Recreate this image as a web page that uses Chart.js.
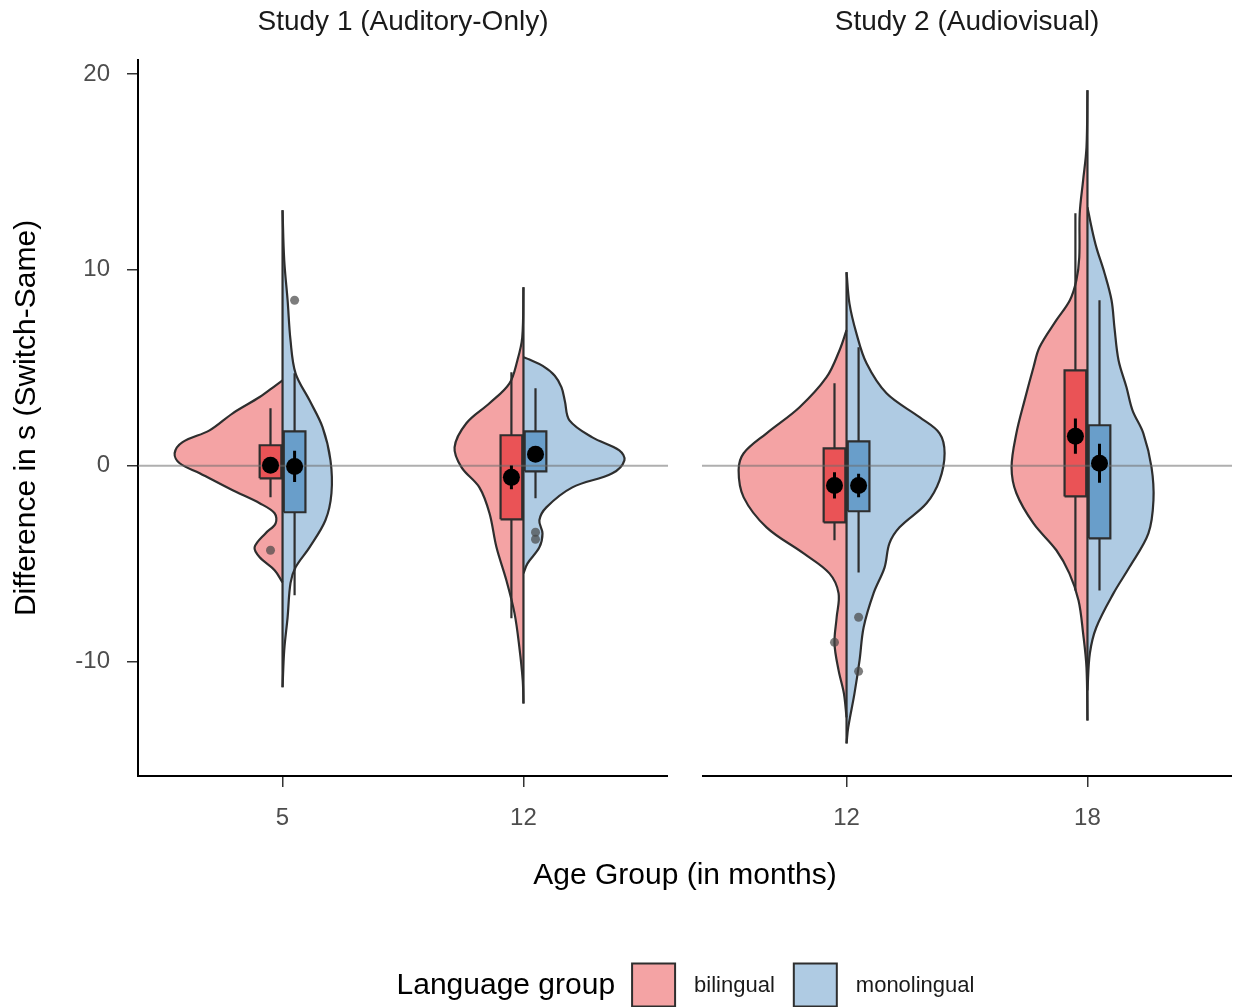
<!DOCTYPE html>
<html><head><meta charset="utf-8">
<script src="https://cdn.jsdelivr.net/npm/chart.js@4.4.1/dist/chart.umd.min.js"></script>
<style>html,body{margin:0;padding:0;background:#fff}canvas{display:block}</style>
</head><body>
<canvas id="c" width="1236" height="1007"></canvas>
<script>
// ---------------- DATA ----------------
const studies = ['Study 1 (Auditory-Only)', 'Study 2 (Audiovisual)'];
const ageLabels = ['5', '12', '12', '18'];
const studyOfGroup = [0, 0, 1, 1];
const yTicks = [-10, 0, 10, 20];
const refLineValue = 0;
const groupNames = ['bilingual', 'monolingual'];

// half-violin density outlines: [value, scaled density width], top to bottom
const densBi_S1_5 = [[4.36,0],[4.11,0.028],[3.51,0.095],[2.68,0.207],[1.81,0.303],[1.21,0.415],[0.64,0.448],[0.13,0.427],[-0.38,0.344],[-1.25,0.207],[-1.91,0.095],[-2.42,0.033],[-2.94,0.029],[-3.45,0.071],[-4.16,0.116],[-4.67,0.095],[-5.33,0.033],[-5.95,0]];
const densMono_S1_5 = [[13.04,0],[10.49,0.007],[8.45,0.021],[6.41,0.033],[4.72,0.054],[3.34,0.112],[1.97,0.166],[0.28,0.199],[-1.40,0.203],[-2.78,0.178],[-4.16,0.112],[-5.18,0.054],[-5.99,0.033],[-7.73,0.021],[-9.41,0.007],[-11.3,0]];
const densBi_S1_12 = [[9.11,0],[6.56,0.005],[5.39,0.025],[4.21,0.058],[3.19,0.141],[2.17,0.237],[0.94,0.286],[-0.08,0.257],[-1.10,0.183],[-2.42,0.141],[-4.16,0.112],[-5.84,0.071],[-7.53,0.037],[-9.26,0.017],[-10.95,0.003],[-12.13,0]];
const densMono_S1_12 = [[5.54,0],[5.42,0.025],[5.10,0.080],[4.60,0.130],[4.00,0.158],[3.30,0.172],[2.32,0.191],[1.45,0.286],[0.79,0.398],[0.28,0.419],[-0.38,0.369],[-1.10,0.203],[-2.12,0.095],[-2.78,0.066],[-3.45,0.079],[-4.16,0.066],[-4.98,0.017],[-5.49,0]];
const densBi_S2_12 = [[6.92,0],[5.90,0.029],[4.52,0.083],[2.99,0.195],[1.66,0.332],[0.64,0.427],[-0.23,0.448],[-1.61,0.427],[-3.14,0.332],[-4.47,0.178],[-5.49,0.071],[-6.51,0.033],[-7.73,0.041],[-9.06,0.050],[-10.44,0.033],[-11.61,0.011],[-12.84,0]];
const densMono_S2_12 = [[9.88,0],[8.29,0.012],[6.76,0.041],[5.23,0.083],[3.70,0.166],[2.48,0.303],[1.66,0.386],[0.64,0.407],[-0.74,0.386],[-1.91,0.332],[-3.14,0.220],[-3.96,0.178],[-5.18,0.158],[-6.51,0.112],[-8.24,0.071],[-9.93,0.054],[-11.61,0.033],[-13.35,0.007],[-14.17,0]];
const densBi_S2_18 = [[19.17,0],[16.26,0.004],[14.57,0.018],[12.89,0.032],[10.64,0.034],[9.47,0.046],[8.45,0.073],[7.43,0.129],[6.05,0.199],[5.03,0.224],[3.34,0.261],[1.66,0.295],[-0.08,0.315],[-1.40,0.295],[-2.94,0.224],[-4.31,0.129],[-5.49,0.075],[-6.87,0.037],[-8.55,0.018],[-10.29,0.004],[-13.0,0]];
const densMono_S2_18 = [[13.20,0],[12.17,0.017],[11.15,0.037],[9.83,0.071],[8.45,0.100],[7.07,0.112],[5.39,0.129],[4.01,0.162],[2.83,0.187],[1.66,0.232],[-0.08,0.266],[-1.76,0.274],[-3.45,0.253],[-5.18,0.174],[-6.51,0.108],[-8.24,0.037],[-9.57,0.010],[-11.46,0]];

const densBi = [densBi_S1_5, densBi_S1_12, densBi_S2_12, densBi_S2_18];
const densMono = [densMono_S1_5, densMono_S1_12, densMono_S2_12, densMono_S2_18];

// box plot statistics per group (5, 12 | 12, 18)
const biQ1 = [-0.64, -2.73, -2.89, -1.56];
const biQ3 = [1.05, 1.56, 0.89, 4.87];
const biWhiskLo = [-1.61, -7.78, -3.80, -6.36];
const biWhiskHi = [2.94, 4.77, 4.21, 12.89];
const biMean = [0.03, -0.59, -1.00, 1.51];
const biSE = [0.35, 0.60, 0.67, 0.90];
const monoQ1 = [-2.37, -0.28, -2.32, -3.70];
const monoQ3 = [1.76, 1.76, 1.25, 2.07];
const monoWhiskLo = [-6.61, -1.66, -5.44, -6.36];
const monoWhiskHi = [4.72, 3.96, 6.05, 8.45];
const monoMean = [-0.03, 0.59, -1.00, 0.13];
const monoSE = [0.80, 0.40, 0.60, 1.00];
// outliers: [group index, value]
const biOutliers = [[0, -4.31], [2, -9.01]];
const monoOutliers = [[0, 8.45], [1, -3.39], [1, -3.75], [2, -7.73], [2, -10.49]];

// ---------------- LAYOUT / STYLE ----------------
const FONT = '"Liberation Sans", Arial, Helvetica, sans-serif';
Chart.defaults.font.family = FONT;
const PANEL_EXPAND = 0.6, PANEL_SPAN = 2.2, PANEL_GAP = 34 / 241;
const X_MIN = 1 - PANEL_EXPAND;
const panelStart = s => X_MIN + s * (PANEL_SPAN + PANEL_GAP);
const panelBounds = s => [panelStart(s), panelStart(s) + PANEL_SPAN];
const xPos = studyOfGroup.map((s, i) => {
  const k = studyOfGroup.slice(0, i).filter(v => v === s).length;
  return panelStart(s) + PANEL_EXPAND + k;
});
const BOX_OFF = 0.05, BOX_HW = 0.045;
const C_BI_V = '#F4A3A4', C_MO_V = '#AFCBE3';
const C_BI_B = '#EA5356', C_MO_B = '#699ECA';
const OUTLINE = '#2e2e2e';
const LW = 2.2;

const datasets = [];
function lineDs(data, extra) {
  return Object.assign({type: 'line', data, pointRadius: 0, borderColor: OUTLINE, borderWidth: LW,
    fill: false, tension: 0, spanGaps: false}, extra);
}
// violins
xPos.forEach((cx, i) => {
  datasets.push(lineDs(densBi[i].map(([y, w]) => ({x: cx - w, y})), {backgroundColor: C_BI_V, fill: 'shape', tension: 0.35, order: 60}));
  datasets.push(lineDs(densMono[i].map(([y, w]) => ({x: cx + w, y})), {backgroundColor: C_MO_V, fill: 'shape', tension: 0.35, order: 60}));
});
// violin center lines
const centerPts = [];
xPos.forEach((cx, i) => {
  const all = densBi[i].concat(densMono[i]).map(d => d[0]);
  centerPts.push({x: cx, y: Math.max(...all)}, {x: cx, y: Math.min(...all)}, {x: cx, y: null});
});
datasets.push(lineDs(centerPts, {order: 55}));
// whiskers
function whiskers(off, lo, hi, q1, q3) {
  const pts = [];
  xPos.forEach((cx, i) => {
    const bx = cx + off;
    pts.push({x: bx, y: hi[i]}, {x: bx, y: q3[i]}, {x: bx, y: null}, {x: bx, y: q1[i]}, {x: bx, y: lo[i]}, {x: bx, y: null});
  });
  return pts;
}
datasets.push(lineDs(whiskers(-BOX_OFF, biWhiskLo, biWhiskHi, biQ1, biQ3), {order: 50}));
datasets.push(lineDs(whiskers(BOX_OFF, monoWhiskLo, monoWhiskHi, monoQ1, monoQ3), {order: 50}));
// boxes
function boxPts(bx, q1, q3) {
  return [{x: bx - BOX_HW, y: q1}, {x: bx - BOX_HW, y: q3}, {x: bx + BOX_HW, y: q3}, {x: bx + BOX_HW, y: q1}, {x: bx - BOX_HW, y: q1}];
}
xPos.forEach((cx, i) => {
  datasets.push(lineDs(boxPts(cx - BOX_OFF, biQ1[i], biQ3[i]), {backgroundColor: C_BI_B, fill: 'shape', order: 45}));
  datasets.push(lineDs(boxPts(cx + BOX_OFF, monoQ1[i], monoQ3[i]), {backgroundColor: C_MO_B, fill: 'shape', order: 45}));
});
// zero reference line (per panel)
const refPts = [];
studies.forEach((s, k) => {
  const [a, b] = panelBounds(k);
  refPts.push({x: a, y: refLineValue}, {x: b, y: refLineValue}, {x: b, y: null});
});
datasets.push(lineDs(refPts, {borderColor: 'rgba(110,110,110,0.55)', borderWidth: 2, order: 40}));
// mean error bars
function errPts(off, mean, se) {
  const pts = [];
  xPos.forEach((cx, i) => { pts.push({x: cx + off, y: mean[i] - se[i]}, {x: cx + off, y: mean[i] + se[i]}, {x: cx + off, y: null}); });
  return pts;
}
datasets.push(lineDs(errPts(-BOX_OFF, biMean, biSE), {borderColor: '#000', borderWidth: 3, order: 30}));
datasets.push(lineDs(errPts(BOX_OFF, monoMean, monoSE), {borderColor: '#000', borderWidth: 3, order: 30}));
// mean points
datasets.push(lineDs(xPos.map((cx, i) => ({x: cx - BOX_OFF, y: biMean[i]})), {showLine: false, pointRadius: 8.5, pointBackgroundColor: '#000', pointBorderWidth: 0, order: 20}));
datasets.push(lineDs(xPos.map((cx, i) => ({x: cx + BOX_OFF, y: monoMean[i]})), {showLine: false, pointRadius: 8.5, pointBackgroundColor: '#000', pointBorderWidth: 0, order: 20}));
// outliers
datasets.push(lineDs(biOutliers.map(([g, v]) => ({x: xPos[g] - BOX_OFF, y: v})), {showLine: false, pointRadius: 4.5, pointBackgroundColor: 'rgba(70,70,70,0.7)', pointBorderWidth: 0, order: 10}));
datasets.push(lineDs(monoOutliers.map(([g, v]) => ({x: xPos[g] + BOX_OFF, y: v})), {showLine: false, pointRadius: 4.5, pointBackgroundColor: 'rgba(70,70,70,0.7)', pointBorderWidth: 0, order: 10}));

const decorPlugin = {
  id: 'facetDecor',
  afterDatasetsDraw(chart) {
    const {ctx, chartArea, scales: {x}} = chart;
    ctx.save();
    ctx.strokeStyle = '#000'; ctx.lineWidth = 2;
    studies.forEach((s, k) => {
      const [a, b] = panelBounds(k);
      ctx.beginPath();
      ctx.moveTo(x.getPixelForValue(a) - (k === 0 ? 1 : 0), chartArea.bottom);
      ctx.lineTo(x.getPixelForValue(b), chartArea.bottom);
      ctx.stroke();
    });
    ctx.restore();
  },
  afterDraw(chart) {
    const {ctx, chartArea, scales: {x}} = chart;
    ctx.save();
    ctx.fillStyle = '#1a1a1a';
    ctx.font = '28px ' + FONT;
    ctx.textAlign = 'center'; ctx.textBaseline = 'middle';
    studies.forEach((s, k) => {
      const [a, b] = panelBounds(k);
      ctx.fillText(s, (x.getPixelForValue(a) + x.getPixelForValue(b)) / 2, 22);
    });
    // legend
    const yC = 985, key = 43;
    ctx.font = '30px ' + FONT;
    const tW = ctx.measureText('Language group').width;
    ctx.font = '22px ' + FONT;
    const l1 = ctx.measureText(groupNames[0]).width, l2 = ctx.measureText(groupNames[1]).width;
    const total = tW + 17 + key + 19 + l1 + 19 + key + 18 + l2;
    let cx = (chartArea.left + chartArea.right) / 2 - total / 2;
    ctx.textAlign = 'left';
    ctx.fillStyle = '#000';
    ctx.font = '30px ' + FONT;
    ctx.fillText('Language group', cx, yC + 1);
    cx += tW + 17;
    [[C_BI_V, groupNames[0], l1], [C_MO_V, groupNames[1], l2]].forEach(([col, lab, w], j) => {
      ctx.fillStyle = col; ctx.fillRect(cx, yC - key / 2, key, key);
      ctx.strokeStyle = OUTLINE; ctx.lineWidth = 2; ctx.strokeRect(cx, yC - key / 2, key, key);
      cx += key + 19;
      ctx.fillStyle = '#1a1a1a'; ctx.font = '22px ' + FONT;
      ctx.fillText(lab, cx, yC + 1);
      cx += w + (j === 0 ? 19 : 0);
    });
    ctx.restore();
  }
};

new Chart(document.getElementById('c'), {
  type: 'line',
  data: {datasets},
  options: {
    responsive: false, animation: false, devicePixelRatio: 1,
    layout: {autoPadding: false, padding: {top: 60, right: 4, bottom: 101, left: 0}},
    plugins: {legend: {display: false}, tooltip: {enabled: false}, title: {display: false}},
    scales: {
      x: {
        type: 'linear', min: X_MIN, max: panelBounds(1)[1],
        afterBuildTicks: s => { s.ticks = xPos.map(v => ({value: v})); },
        afterFit: s => { s.height = 130; s.paddingLeft = 0; s.paddingRight = 0; },
        ticks: {callback: (v, i) => ageLabels[i], font: {size: 24}, color: '#4d4d4d', padding: 17, maxRotation: 0, autoSkip: false},
        grid: {display: true, drawOnChartArea: false, drawTicks: true, tickLength: 11, color: '#333', lineWidth: 1.5},
        border: {display: false},
        title: {display: true, text: 'Age Group (in months)', font: {size: 30}, color: '#000', padding: {top: 0, bottom: 12}}
      },
      y: {
        type: 'linear', min: -15.83, max: 20.71,
        afterBuildTicks: s => { s.ticks = yTicks.map(v => ({value: v})); },
        afterFit: s => { s.width = 138; },
        ticks: {font: {size: 24}, color: '#4d4d4d', padding: 17},
        grid: {display: true, drawOnChartArea: false, drawTicks: true, tickLength: 11, color: '#333', lineWidth: 1.5},
        border: {display: true, color: '#000', width: 2},
        title: {display: true, text: 'Difference in s (Switch-Same)', font: {size: 30}, color: '#000', padding: {top: 9, bottom: 0}}
      }
    }
  },
  plugins: [decorPlugin]
});
</script>
</body></html>
